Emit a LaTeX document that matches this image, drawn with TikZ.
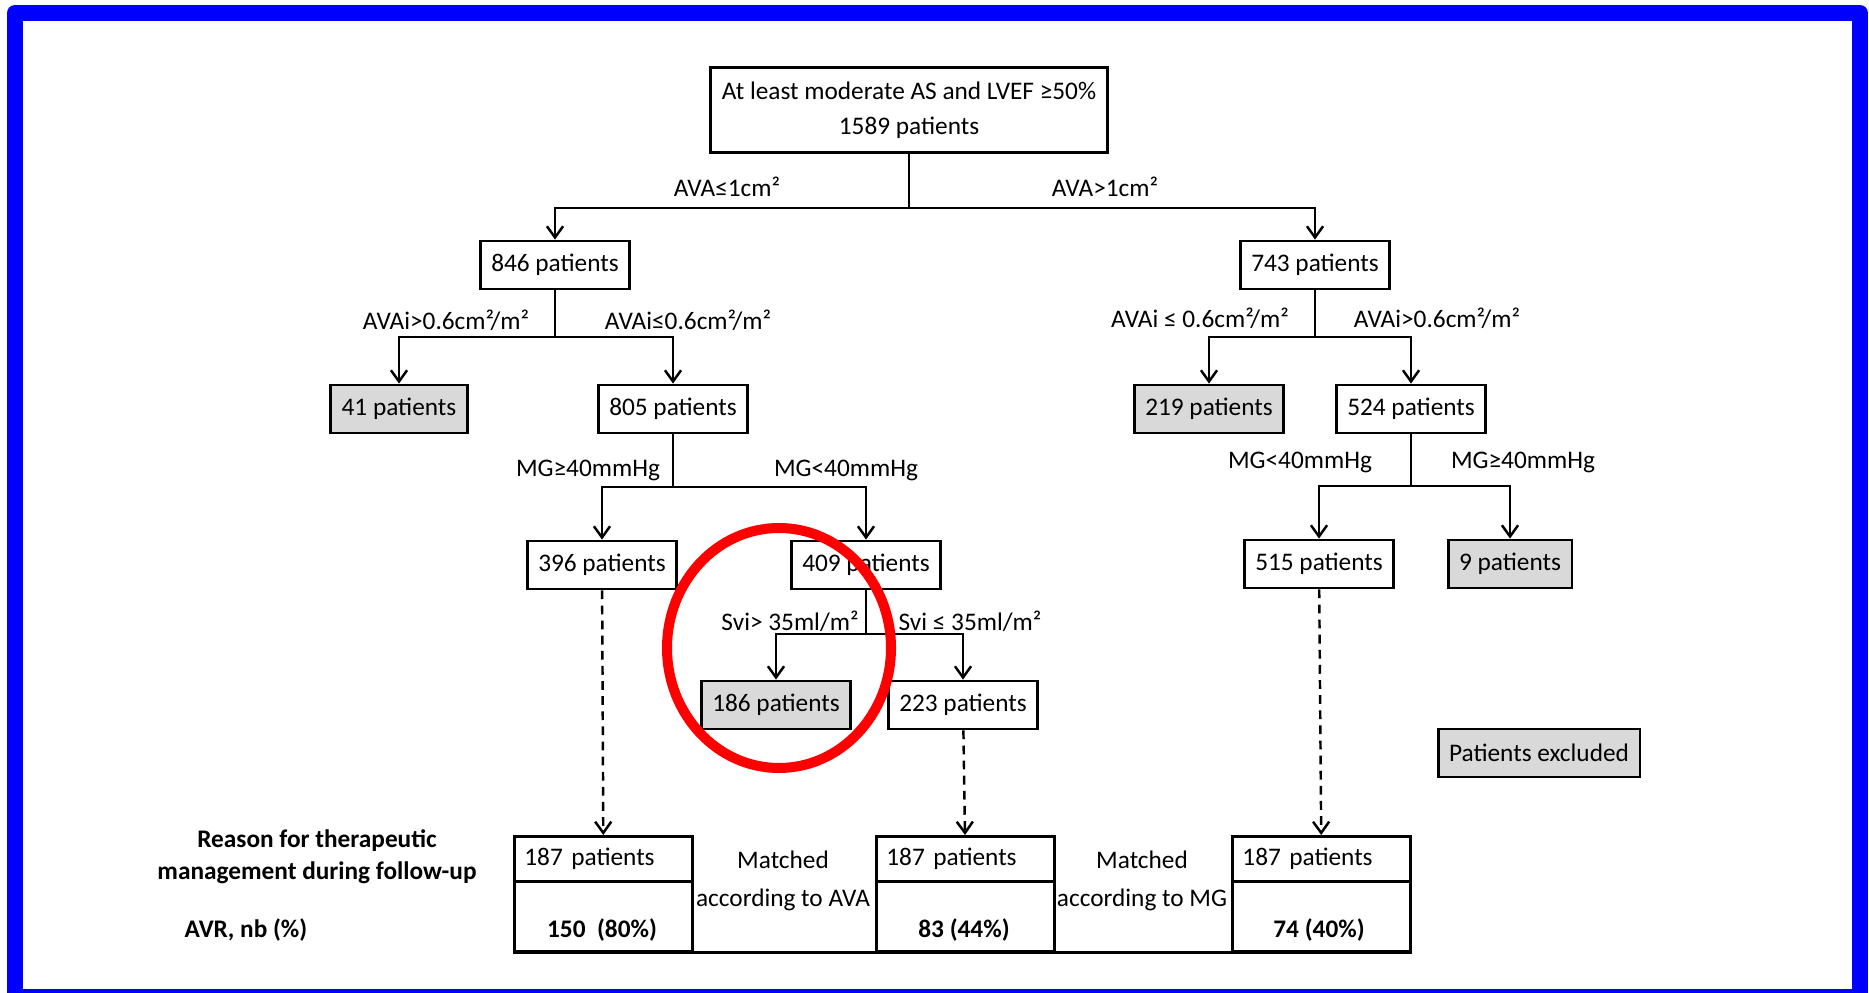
\documentclass[tikz,border=0pt]{standalone}
\usepackage{fontspec}
\setmainfont{Carlito}
\usetikzlibrary{arrows.meta}

\begin{document}
\begin{tikzpicture}[x=0.1mm, y=-0.1mm,
    font=\fontsize{7.2}{10}\selectfont,
    box/.style={draw, line width=0.8pt, inner xsep=1.1mm, inner ysep=0pt, minimum height=4.8mm},
    excl/.style={box, fill=black!15},
    crit/.style={inner sep=0pt},
    link/.style={line width=0.7pt, -{Straight Barb[length=3.2pt,width=4.6pt]}},
    follow/.style={link, dash pattern=on 2.5pt off 1.8pt},
    cell/.style={draw, line width=0.8pt, anchor=north west, inner xsep=1mm, inner ysep=0pt, text width=15.8mm}]

    \useasboundingbox (0,0) rectangle (1869,993);
    \draw[blue, line width=1.6mm, line join=round] (15,13) rectangle (1860,997);

    % selection tree
    \node[box, align=center, minimum height=8.5mm] (all) at (909,110) {At least moderate AS and LVEF ≥50\%\\1589 patients};

    \node[box] (n846) at (555,265) {846 patients};
    \node[box] (n743) at (1315,265) {743 patients};

    \node[excl] (n41) at (399,409) {41 patients};
    \node[box] (n805) at (673,409) {805 patients};
    \node[excl] (n219) at (1209,409) {219 patients};
    \node[box] (n524) at (1411,409) {524 patients};

    \node[box] (n396) at (602,565) {396 patients};
    \node[box] (n409) at (866,565) {409 patients};
    \node[box] (n515) at (1319,564) {515 patients};
    \node[excl] (n9) at (1510,564) {9 patients};

    \node[excl] (n186) at (776,705) {186 patients};
    \node[box] (n223) at (963,705) {223 patients};

    \node[excl] (key) at (1539,753) {Patients excluded};

    % branch points
    \coordinate (j0) at (909,208);
    \coordinate (j1) at (555,337);
    \coordinate (j2) at (1315,337);
    \coordinate (j3) at (673,487);
    \coordinate (j4) at (1411,486);
    \coordinate (j5) at (866,634);

    \draw[line width=0.7pt] (all) -- (j0);
    \draw[link] (j0) -| (n846);
    \draw[link] (j0) -| (n743);
    \draw[line width=0.7pt] (n846) -- (j1);
    \draw[link] (j1) -| (n41);
    \draw[link] (j1) -| (n805);
    \draw[line width=0.7pt] (n743) -- (j2);
    \draw[link] (j2) -| (n219);
    \draw[link] (j2) -| (n524);
    \draw[line width=0.7pt] (n805) -- (j3);
    \draw[link] (j3) -| (n396);
    \draw[link] (j3) -| (n409);
    \draw[line width=0.7pt] (n524) -- (j4);
    \draw[link] (j4) -| (n515);
    \draw[link] (j4) -| (n9);
    \draw[line width=0.7pt] (n409) -- (j5);
    \draw[link] (j5) -| (n186);
    \draw[link] (j5) -| (n223);

    % criteria
    \node[crit] (ava1) at (727,187) {AVA≤1cm²};
    \node[crit] (ava2) at (1105,187) {AVA>1cm²};
    \node[crit] (avai1) at (446,320) {AVAi>0.6cm²/m²};
    \node[crit] (avai2) at (688,320) {AVAi≤0.6cm²/m²};
    \node[crit] (avai3) at (1200,318) {AVAi ≤ 0.6cm²/m²};
    \node[crit] (avai4) at (1437,318) {AVAi>0.6cm²/m²};
    \node[crit] (mg1) at (588,470) {MG≥40mmHg};
    \node[crit] (mg2) at (846,470) {MG<40mmHg};
    \node[crit] (mg3) at (1300,462) {MG<40mmHg};
    \node[crit] (mg4) at (1523,462) {MG≥40mmHg};
    \node[crit] (svi1) at (790,621) {Svi> 35ml/m²};
    \node[crit] (svi2) at (970,621) {Svi ≤ 35ml/m²};

    % matched groups
    \node[cell, minimum height=4.5mm, align=left] (t1) at (513,835) {187 patients};
    \node[cell, minimum height=7mm] (v1) at (513,880) {};
    \node[cell, minimum height=4.5mm, align=left] (t2) at (875,835) {187 patients};
    \node[cell, minimum height=7mm] (v2) at (875,880) {};
    \node[cell, minimum height=4.5mm, align=left] (t3) at (1231,835) {187 patients};
    \node[cell, minimum height=7mm] (v3) at (1231,880) {};
    \draw[line width=0.8pt] (v1.south west) -- (v3.south east);

    \node[font=\fontsize{7.2}{10}\selectfont\bfseries] (r1) at (602,930) {150~~(80\%)};
    \node[font=\fontsize{7.2}{10}\selectfont\bfseries] (r2) at (964,930) {83 (44\%)};
    \node[font=\fontsize{7.2}{10}\selectfont\bfseries] (r3) at (1319,930) {74 (40\%)};

    \node[align=center, font=\fontsize{7.2}{11}\selectfont] (mava) at (783,881) {Matched\\according to AVA};
    \node[align=center, font=\fontsize{7.2}{11}\selectfont] (mmg) at (1142,881) {Matched\\according to MG};

    \node[align=center, font=\fontsize{7.2}{9.2}\selectfont\bfseries] (reason) at (317,857) {Reason for therapeutic\\management during follow-up};
    \node[font=\fontsize{7.2}{10}\selectfont\bfseries] (avr) at (246,930) {AVR, nb (\%)};

    \draw[follow] (n396) -- (t1);
    \draw[follow] (n223) -- (t2);
    \draw[follow] (n515) -- (t3);

    % highlight
    \draw[red, line width=2.85pt] (779,648) ellipse [x radius=11.2mm, y radius=12mm];
\end{tikzpicture}
\end{document}
